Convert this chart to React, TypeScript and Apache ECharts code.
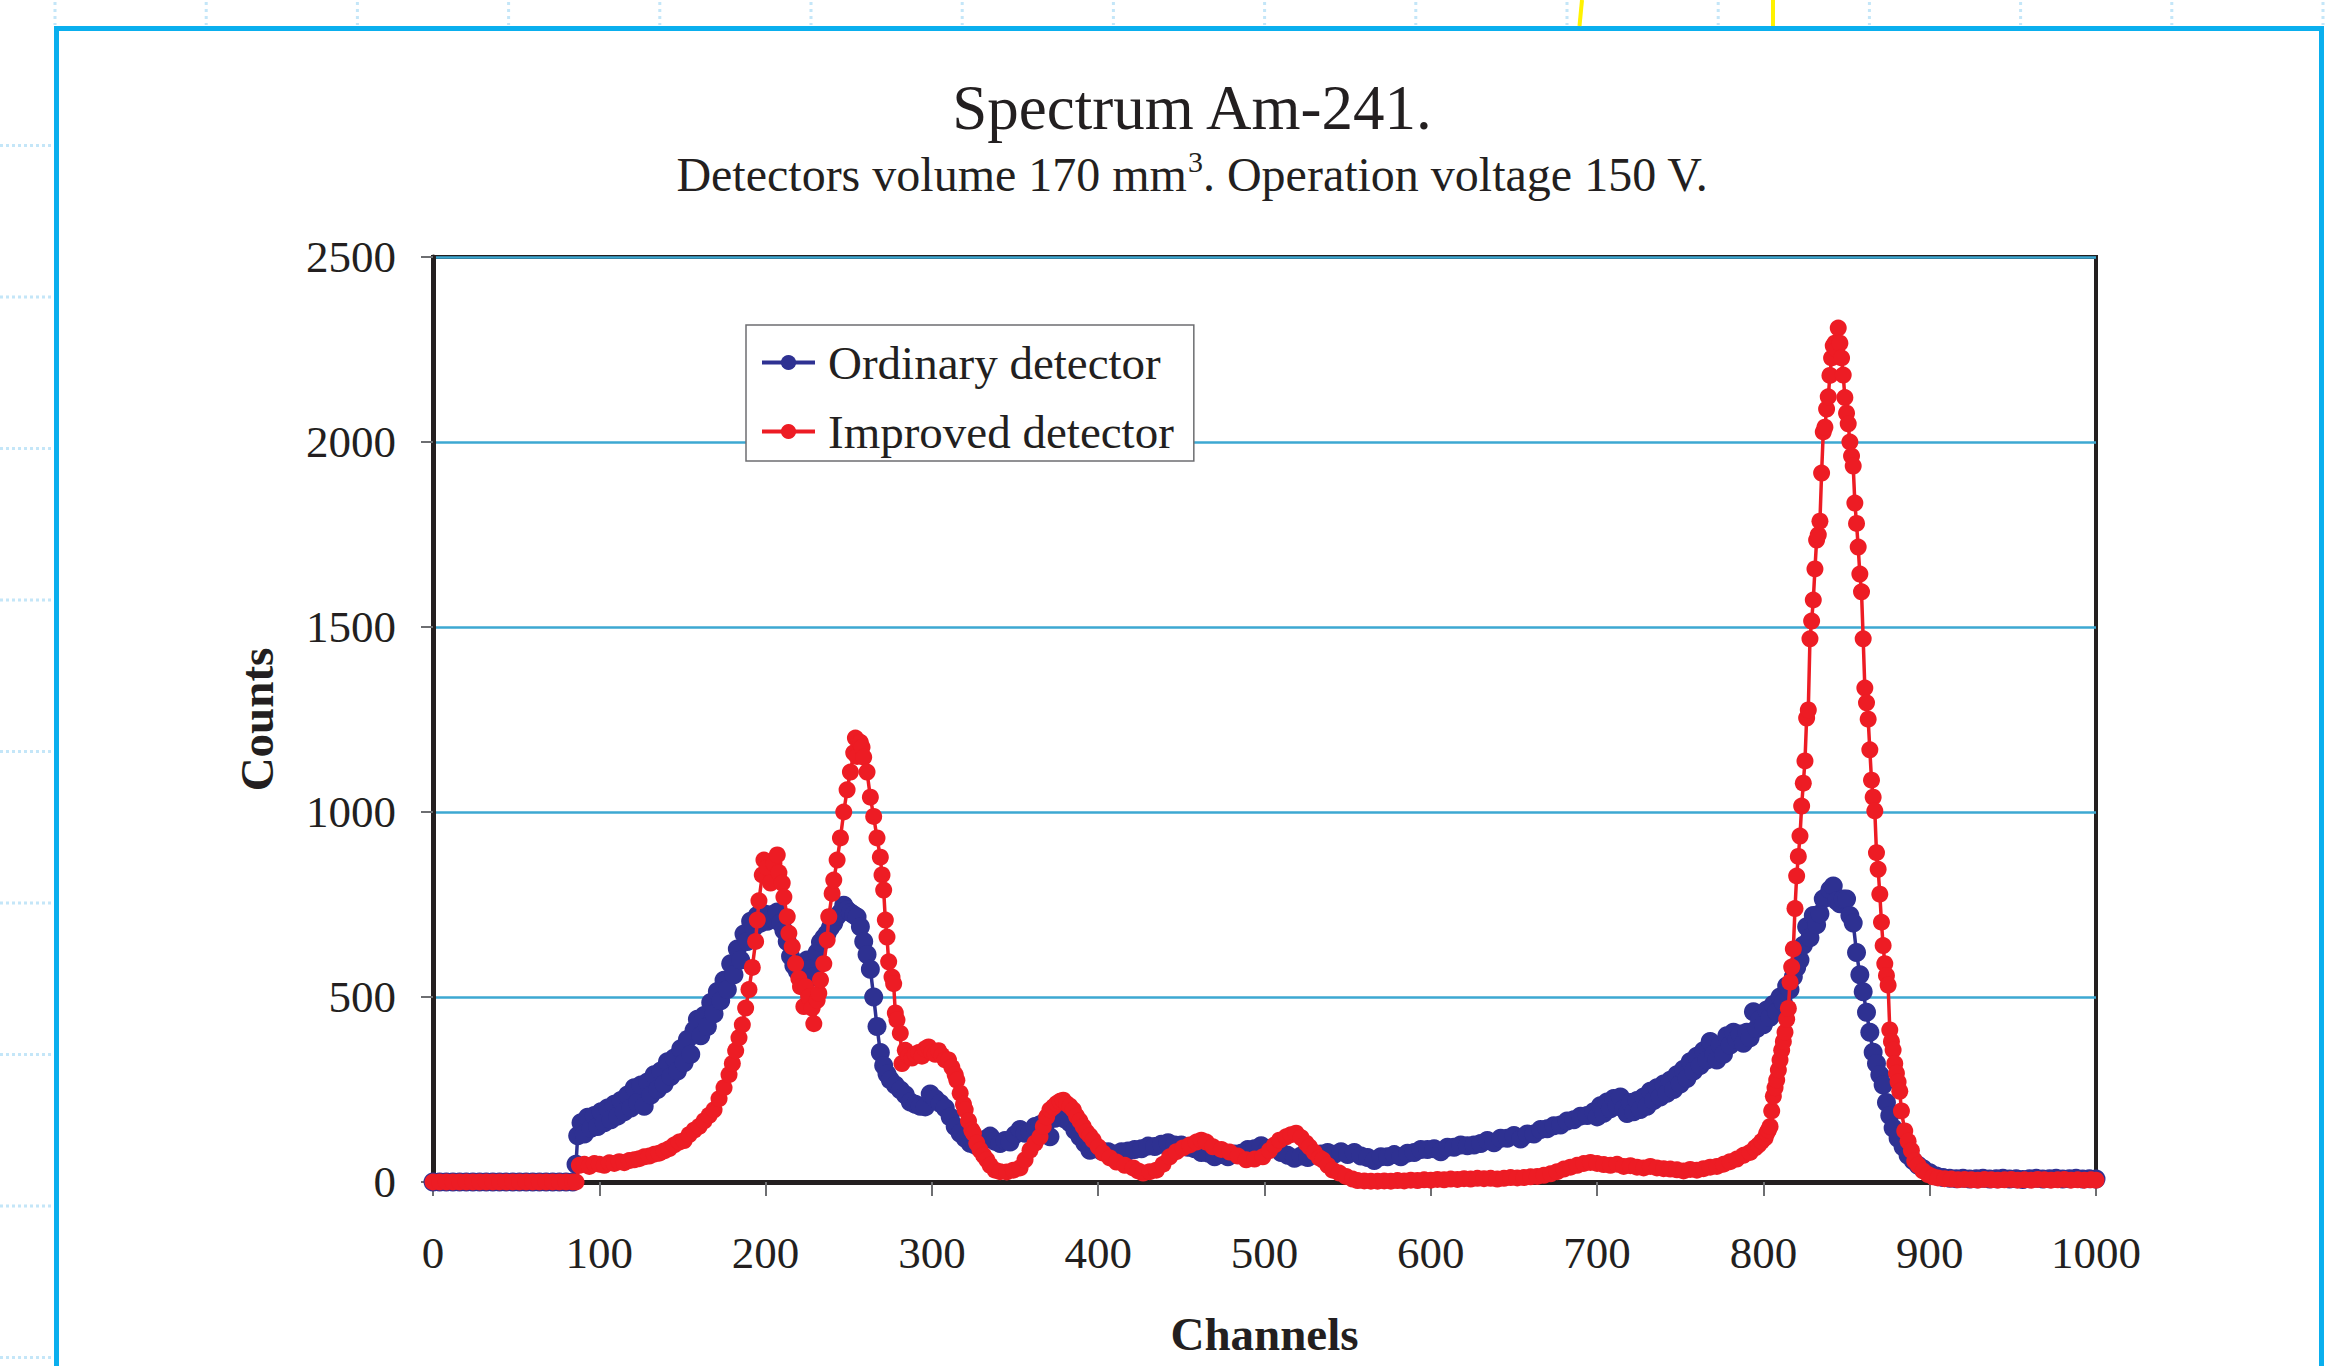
import React, { useEffect, useRef } from 'react';
import * as echarts from 'echarts';

const FONT = '"Liberation Serif", "Times New Roman", serif';
const INK = '#231F20';
const BLUE = '#2E3192';
const RED = '#ED1C24';
const GRIDLINE = '#3DA8D2';
const FRAME = '#0AAFEE';

const titleText = 'Spectrum Am-241.';
const subtitleBefore = 'Detectors volume 170 mm';
const subtitleSup = '3';
const subtitleAfter = '. Operation voltage 150 V.';
const xAxisName = 'Channels';
const yAxisName = 'Counts';
const seriesNames = ['Ordinary detector', 'Improved detector'];
const xRange = [0, 1000];
const xStep = 100;
const yRange = [0, 2500];
const yStep = 500;

// [channel, counts]
const ordinary: [number, number][] = [
  [0, 0], [4, 0], [8, 0], [12, 0], [16, 0], [20, 0], [24, 0], [28, 0], [32, 0], [36, 0], [40, 0],
  [44, 0], [48, 0], [52, 0], [56, 0], [60, 0], [64, 0], [68, 0], [72, 0], [76, 0], [80, 0], [84, 0],
  [86, 48], [87, 125], [89, 160], [91, 130], [93, 175], [95, 145], [97, 180], [99, 150], [101, 190],
  [103, 160], [105, 200], [107, 168], [109, 210], [111, 178], [113, 220], [115, 190], [117, 235],
  [119, 200], [121, 255], [123, 215], [125, 262], [127, 205], [129, 270], [131, 235], [133, 290],
  [135, 250], [137, 300], [139, 265], [141, 325], [143, 285], [145, 335], [147, 300], [149, 360],
  [151, 322], [153, 385], [155, 345], [157, 410], [159, 440], [161, 395], [163, 450], [165, 420],
  [167, 485], [169, 455], [171, 515], [173, 490], [175, 545], [177, 520], [179, 590], [181, 560],
  [183, 630], [185, 600], [187, 670], [189, 650], [191, 705], [193, 688], [195, 720], [197, 700],
  [199, 725], [201, 705], [203, 722], [205, 710], [207, 730], [209, 700], [211, 680], [213, 650],
  [215, 610], [217, 585], [219, 570], [221, 562], [223, 590], [225, 600], [227, 575], [229, 555],
  [231, 620], [233, 648], [235, 660], [237, 672], [239, 688], [241, 700], [243, 718], [245, 728],
  [247, 748], [249, 735], [251, 728], [253, 722], [255, 716], [257, 690], [259, 650], [261, 615],
  [263, 575], [265, 500], [267, 420], [269, 350], [271, 315], [273, 292], [275, 276], [278, 262],
  [281, 249], [284, 236], [287, 216], [290, 210], [293, 205], [296, 203], [299, 238], [302, 225],
  [305, 213], [308, 200], [311, 176], [314, 150], [317, 132], [320, 118], [323, 105], [326, 100],
  [329, 108], [332, 115], [335, 124], [338, 110], [341, 104], [344, 112], [347, 108], [350, 128],
  [353, 142], [356, 132], [359, 136], [362, 150], [365, 155], [368, 162], [371, 122], [374, 172],
  [377, 188], [380, 170], [383, 160], [386, 140], [389, 122], [392, 105], [395, 86], [398, 90],
  [402, 84], [406, 82], [410, 76], [414, 82], [418, 84], [422, 88], [426, 90], [430, 97], [434, 96],
  [438, 102], [442, 106], [446, 100], [450, 100], [454, 94], [458, 90], [462, 80], [466, 78],
  [470, 68], [474, 74], [478, 68], [482, 76], [486, 78], [490, 88], [494, 90], [498, 98], [502, 90],
  [506, 90], [510, 80], [514, 72], [518, 64], [522, 70], [526, 66], [530, 74], [534, 76], [538, 80],
  [542, 75], [546, 82], [550, 74], [554, 80], [558, 70], [562, 66], [566, 58], [570, 68], [574, 68],
  [578, 74], [582, 68], [586, 78], [590, 80], [594, 88], [598, 88], [602, 90], [606, 82], [610, 94],
  [614, 94], [618, 100], [622, 98], [626, 100], [630, 104], [634, 112], [638, 106], [642, 118],
  [646, 118], [650, 126], [654, 116], [658, 130], [662, 130], [666, 142], [670, 144], [674, 152],
  [678, 154], [682, 165], [686, 168], [690, 178], [694, 180], [698, 190], [700, 176], [702, 206],
  [704, 186], [706, 216], [708, 198], [710, 226], [712, 206], [714, 230], [716, 198], [718, 185],
  [720, 215], [722, 190], [724, 220], [726, 196], [728, 230], [730, 205], [732, 245], [734, 220],
  [736, 255], [738, 230], [740, 265], [742, 240], [744, 275], [746, 250], [748, 290], [750, 265],
  [752, 305], [754, 280], [756, 325], [758, 300], [760, 340], [762, 315], [764, 355], [766, 330],
  [768, 380], [770, 345], [772, 330], [774, 370], [776, 345], [778, 395], [780, 370], [782, 405],
  [784, 385], [786, 400], [788, 375], [790, 405], [792, 390], [794, 460], [796, 415], [798, 440],
  [800, 425], [802, 465], [804, 445], [806, 480], [808, 460], [810, 500], [812, 485], [814, 530],
  [816, 520], [818, 555], [820, 580], [822, 600], [824, 640], [826, 690], [828, 660], [830, 720],
  [832, 695], [834, 725], [836, 765], [838, 770], [840, 790], [842, 800], [844, 760], [846, 752],
  [848, 765], [850, 765], [852, 720], [854, 700], [856, 620], [858, 560], [860, 514], [862, 459],
  [864, 405], [866, 351], [868, 320], [870, 290], [872, 262], [874, 215], [876, 180], [878, 146],
  [881, 118], [884, 95], [887, 72], [890, 58], [893, 45], [896, 36], [900, 25], [904, 16], [908, 12],
  [912, 10], [916, 9], [920, 10], [924, 8], [928, 9], [932, 10], [936, 8], [940, 9], [944, 10],
  [948, 8], [952, 9], [956, 7], [960, 9], [964, 10], [968, 8], [972, 9], [976, 10], [980, 8],
  [984, 9], [988, 10], [992, 8], [996, 9], [1000, 8],
];

const improved: [number, number][] = [
  [0, 0], [4, 0], [8, 0], [12, 0], [16, 0], [20, 0], [24, 0], [28, 0], [32, 0], [36, 0], [40, 0],
  [44, 0], [48, 0], [52, 0], [56, 0], [60, 0], [64, 0], [68, 0], [72, 0], [76, 0], [80, 0], [84, 0],
  [86, 0], [88, 45], [91, 48], [94, 42], [97, 50], [100, 48], [103, 45], [106, 52], [109, 50],
  [112, 55], [115, 52], [118, 58], [121, 60], [124, 63], [127, 68], [130, 70], [133, 75], [136, 78],
  [139, 84], [142, 90], [145, 100], [148, 108], [151, 112], [154, 128], [157, 140], [160, 150],
  [163, 165], [166, 180], [169, 195], [172, 225], [175, 255], [178, 290], [180, 320], [182, 355],
  [184, 390], [186, 425], [188, 470], [190, 520], [192, 580], [194, 650], [195, 708], [196, 760],
  [198, 830], [199, 870], [201, 850], [203, 808], [205, 860], [207, 884], [208, 836], [210, 808],
  [211, 770], [213, 717], [214, 672], [216, 636], [218, 590], [220, 550], [221, 528], [223, 474],
  [224, 528], [226, 500], [228, 470], [229, 428], [231, 491], [232, 510], [233, 546], [235, 590],
  [237, 654], [238, 717], [240, 780], [241, 816], [243, 870], [245, 930], [247, 1000], [249, 1060],
  [251, 1108], [253, 1160], [254, 1200], [255, 1150], [256, 1190], [257, 1188], [258, 1175],
  [259, 1148], [261, 1108], [263, 1040], [265, 988], [267, 930], [269, 878], [270, 830], [271, 789],
  [272, 708], [273, 662], [274, 595], [276, 554], [277, 536], [278, 457], [279, 438], [281, 402],
  [282, 320], [284, 356], [286, 340], [288, 335], [290, 345], [292, 350], [294, 340], [296, 360],
  [298, 365], [300, 350], [302, 345], [304, 355], [306, 342], [308, 330], [310, 330], [312, 310],
  [314, 290], [315, 275], [317, 240], [319, 210], [320, 195], [322, 165], [324, 140], [325, 132],
  [327, 105], [329, 86], [331, 72], [333, 60], [335, 45], [338, 32], [341, 28], [345, 27], [349, 32],
  [353, 38], [356, 60], [359, 86], [362, 105], [365, 122], [367, 150], [369, 176], [371, 195],
  [373, 203], [375, 212], [377, 218], [379, 221], [381, 212], [383, 205], [385, 195], [387, 178],
  [389, 165], [391, 150], [393, 135], [395, 125], [397, 113], [400, 95], [403, 78], [407, 65],
  [411, 54], [416, 45], [421, 38], [424, 30], [427, 24], [431, 28], [435, 32], [439, 48], [443, 68],
  [447, 82], [451, 92], [455, 100], [459, 108], [462, 113], [465, 108], [469, 95], [474, 88],
  [479, 81], [484, 70], [489, 60], [494, 62], [499, 68], [503, 85], [506, 100], [509, 113], [513, 122],
  [516, 128], [519, 132], [522, 120], [525, 105], [527, 95], [530, 80], [533, 65], [535, 60], [538, 45],
  [541, 32], [545, 24], [549, 15], [553, 8], [556, 4], [560, 3], [564, 2], [568, 2], [572, 3], [576, 2],
  [580, 4], [584, 3], [588, 5], [592, 4], [596, 6], [600, 5], [604, 7], [608, 6], [612, 8], [616, 7],
  [620, 9], [624, 8], [628, 10], [632, 9], [636, 10], [640, 8], [644, 10], [648, 12], [652, 11],
  [656, 12], [660, 14], [664, 15], [668, 18], [672, 22], [676, 28], [680, 35], [684, 40], [688, 45],
  [692, 50], [696, 53], [700, 50], [704, 47], [708, 45], [712, 48], [716, 42], [720, 44], [724, 40],
  [728, 38], [732, 42], [736, 38], [740, 36], [744, 35], [748, 33], [752, 30], [756, 34], [760, 32],
  [764, 36], [768, 40], [772, 42], [776, 48], [780, 55], [784, 62], [788, 72], [792, 80], [795, 92],
  [797, 100], [799, 110], [801, 119], [802, 132], [803, 140], [804, 150], [805, 192], [806, 232],
  [807, 255], [808, 276], [809, 303], [810, 330], [811, 356], [812, 380], [813, 405], [814, 440],
  [815, 469], [816, 540], [817, 581], [818, 630], [819, 739], [820, 827], [821, 880], [822, 935],
  [823, 1016], [824, 1078], [825, 1138], [826, 1254], [827, 1276], [828, 1468], [829, 1516],
  [830, 1573], [831, 1657], [832, 1735], [833, 1749], [834, 1786], [835, 1916], [836, 2027],
  [837, 2040], [838, 2089], [839, 2122], [840, 2180], [841, 2227], [842, 2260], [843, 2267],
  [844, 2250], [845, 2308], [846, 2267], [847, 2227], [848, 2181], [849, 2120], [850, 2078],
  [851, 2049], [852, 2000], [853, 1962], [854, 1935], [855, 1835], [856, 1780], [857, 1716],
  [858, 1643], [859, 1595], [860, 1468], [861, 1335], [862, 1295], [863, 1251], [864, 1168],
  [865, 1086], [866, 1040], [867, 1003], [868, 890], [869, 845], [870, 778], [871, 702], [872, 639],
  [873, 590], [874, 558], [875, 532], [876, 411], [877, 380], [878, 357], [879, 320], [880, 294],
  [881, 270], [882, 245], [883, 192], [885, 138], [887, 110], [889, 85], [891, 57], [893, 45],
  [896, 30], [899, 20], [902, 14], [905, 11], [909, 9], [913, 8], [917, 6], [921, 7], [925, 6],
  [929, 5], [933, 7], [937, 6], [941, 5], [945, 6], [949, 7], [953, 5], [957, 6], [961, 5], [965, 7],
  [969, 6], [973, 5], [977, 6], [981, 7], [985, 5], [989, 6], [993, 5], [997, 6], [1000, 5],
];

const SUB_SIZE = 48;
const SUP_SIZE = 30;

function measure(text: string, size: number): number {
  const c = document.createElement('canvas');
  const ctx = c.getContext('2d');
  if (!ctx) return text.length * size * 0.45;
  ctx.font = `${size}px ${FONT}`;
  return ctx.measureText(text).width;
}

function decorations(): any[] {
  const els: any[] = [];
  els.push({
    type: 'polyline',
    shape: { points: [[56.5, 1380], [56.5, 28.5], [2321.5, 28.5], [2321.5, 1380]] },
    style: { stroke: FRAME, lineWidth: 5, fill: null, lineJoin: 'miter' },
    z: 1,
  });
  for (let k = 0; k < 16; k++) {
    const x = 55 + 151.2 * k;
    els.push({
      type: 'line',
      shape: { x1: x, y1: 2, x2: x, y2: 25 },
      style: { stroke: '#C4E6F8', lineWidth: 3, lineDash: [3, 4] },
      z: 1,
    });
  }
  for (let k = 0; k < 9; k++) {
    const y = 145.5 + 151.5 * k;
    els.push({
      type: 'line',
      shape: { x1: 0, y1: y, x2: 52, y2: y },
      style: { stroke: '#C4E6F8', lineWidth: 3, lineDash: [3, 3] },
      z: 1,
    });
  }
  els.push({
    type: 'line',
    shape: { x1: 1582, y1: 0, x2: 1579.5, y2: 26 },
    style: { stroke: '#FFF200', lineWidth: 4 },
    z: 1,
  });
  els.push({
    type: 'line',
    shape: { x1: 1773, y1: 0, x2: 1773, y2: 26 },
    style: { stroke: '#FFF200', lineWidth: 4 },
    z: 1,
  });
  els.push({
    type: 'text',
    x: 1192,
    y: 108,
    style: {
      text: titleText,
      fontSize: 63,
      fontFamily: FONT,
      fill: INK,
      align: 'center',
      verticalAlign: 'middle',
    },
    z: 5,
  });
  // subtitle: main text + raised superscript, laid out from measured widths
  const wBefore = measure(subtitleBefore, SUB_SIZE);
  const wSup = measure(subtitleSup, SUP_SIZE);
  const wAfter = measure(subtitleAfter, SUB_SIZE);
  const x0 = 1192 - (wBefore + wSup + wAfter) / 2;
  const subY = 174;
  els.push({
    type: 'text',
    x: x0,
    y: subY,
    style: { text: subtitleBefore, fontSize: SUB_SIZE, fontFamily: FONT, fill: INK, align: 'left', verticalAlign: 'middle' },
    z: 5,
  });
  els.push({
    type: 'text',
    x: x0 + wBefore + 1,
    y: 161,
    style: { text: subtitleSup, fontSize: SUP_SIZE, fontFamily: FONT, fill: INK, align: 'left', verticalAlign: 'middle' },
    z: 5,
  });
  els.push({
    type: 'text',
    x: x0 + wBefore + wSup + 1,
    y: subY,
    style: { text: subtitleAfter, fontSize: SUB_SIZE, fontFamily: FONT, fill: INK, align: 'left', verticalAlign: 'middle' },
    z: 5,
  });
  return els;
}

export default function App() {
  const ref = useRef<HTMLDivElement>(null);
  useEffect(() => {
    if (!ref.current) return;
    const chart = echarts.init(ref.current, null, { renderer: 'svg' });
    const plain = (v: number) => String(v);
    const option: any = {
      animation: false,
      backgroundColor: '#ffffff',
      graphic: { elements: decorations() },
      grid: {
        left: 433,
        top: 257,
        width: 1663,
        height: 925,
        show: true,
        borderColor: INK,
        borderWidth: 4,
        backgroundColor: 'transparent',
      },
      legend: {
        orient: 'vertical',
        left: 746,
        top: 325,
        data: seriesNames,
        itemWidth: 53,
        itemHeight: 19,
        itemGap: 22,
        padding: [14, 20, 6, 14],
        borderColor: '#6D6E71',
        borderWidth: 1.5,
        backgroundColor: '#ffffff',
        selectedMode: false,
        lineStyle: { width: 4 },
        textStyle: { fontSize: 47, fontFamily: FONT, color: INK, padding: [0, 0, 0, 8] },
        z: 10,
      },
      xAxis: {
        type: 'value',
        min: xRange[0],
        max: xRange[1],
        interval: xStep,
        name: xAxisName,
        nameLocation: 'middle',
        nameGap: 128,
        nameTextStyle: { fontSize: 47, fontWeight: 'bold', fontFamily: FONT, color: INK },
        axisLine: { show: true, onZero: false, lineStyle: { color: INK, width: 5 } },
        axisTick: { show: true, inside: false, length: 14, lineStyle: { color: '#6D6E71', width: 2 } },
        axisLabel: { margin: 48, fontSize: 45, fontFamily: FONT, color: INK, formatter: plain },
        splitLine: { show: false },
      },
      yAxis: {
        type: 'value',
        min: yRange[0],
        max: yRange[1],
        interval: yStep,
        name: yAxisName,
        nameLocation: 'middle',
        nameGap: 153,
        nameTextStyle: { fontSize: 47, fontWeight: 'bold', fontFamily: FONT, color: INK },
        axisLine: { show: true, lineStyle: { color: INK, width: 5 } },
        axisTick: { show: true, inside: false, length: 12, lineStyle: { color: '#6D6E71', width: 2 } },
        axisLabel: { margin: 37, fontSize: 45, fontFamily: FONT, color: INK, formatter: plain },
        splitLine: { show: true, lineStyle: { color: GRIDLINE, width: 2.5 } },
      },
      series: [
        {
          name: seriesNames[0],
          type: 'line',
          data: ordinary,
          symbol: 'circle',
          symbolSize: 19,
          showSymbol: true,
          showAllSymbol: true,
          clip: false,
          lineStyle: { color: BLUE, width: 3.5 },
          itemStyle: { color: BLUE },
          emphasis: { disabled: true },
          z: 3,
        },
        {
          name: seriesNames[1],
          type: 'line',
          data: improved,
          symbol: 'circle',
          symbolSize: 17,
          showSymbol: true,
          showAllSymbol: true,
          clip: false,
          lineStyle: { color: RED, width: 3.5 },
          itemStyle: { color: RED },
          emphasis: { disabled: true },
          z: 4,
        },
      ],
    };
    chart.setOption(option);
    return () => chart.dispose();
  }, []);
  return (
    <div
      ref={ref}
      style={{ position: 'fixed', left: 0, top: 0, width: 2326, height: 1366, background: '#fff' }}
    />
  );
}
